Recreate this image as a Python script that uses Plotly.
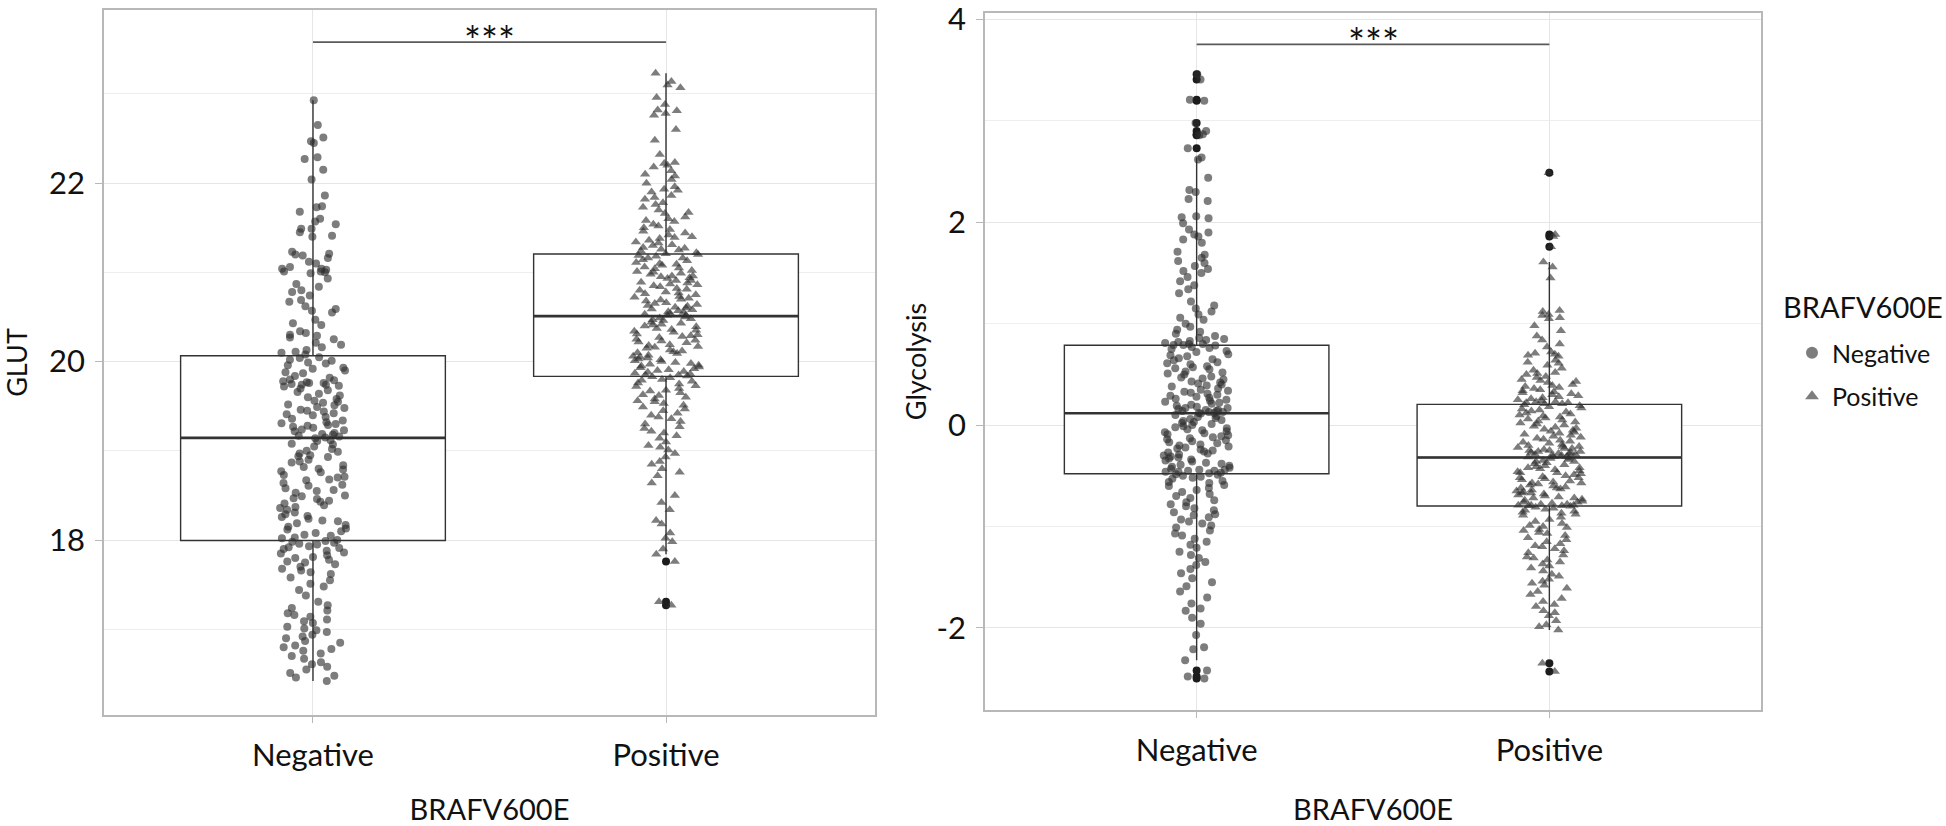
import numpy as np
import plotly.graph_objects as go

# ---------------- data ----------------
categories = ["Negative", "Positive"]

glut_negative = [
    22.93, 22.65, 22.51, 22.47, 22.45, 22.29, 22.27, 22.15, 22.04, 21.86,
    21.74, 21.73, 21.68, 21.60, 21.57, 21.54, 21.49, 21.49, 21.45, 21.41,
    21.40, 21.23, 21.21, 21.20, 21.19, 21.16, 21.12, 21.10, 21.06, 21.04,
    21.04, 21.03, 21.01, 21.01, 21.00, 20.99, 20.93, 20.87, 20.84, 20.80,
    20.78, 20.74, 20.69, 20.67, 20.62, 20.59, 20.57, 20.55, 20.47, 20.43,
    20.41, 20.34, 20.32, 20.30, 20.29, 20.27, 20.25, 20.21, 20.19, 20.16,
    20.13, 20.11, 20.10, 20.08,
    20.05, 20.04, 20.02, 20.01, 19.99, 19.98, 19.96, 19.93, 19.92, 19.90,
    19.88, 19.87, 19.84, 19.82, 19.80, 19.79, 19.78, 19.77, 19.76, 19.76,
    19.75, 19.74, 19.74, 19.73, 19.72, 19.70, 19.68, 19.66, 19.64, 19.62,
    19.60, 19.58, 19.56, 19.55, 19.54, 19.52, 19.51, 19.49, 19.48, 19.46,
    19.45, 19.44, 19.42, 19.41, 19.40, 19.38, 19.36, 19.34, 19.32, 19.31,
    19.30, 19.29, 19.28, 19.27, 19.26, 19.24, 19.23, 19.22, 19.20, 19.19,
    19.18, 19.17, 19.16, 19.15,
    19.14, 19.12, 19.11, 19.08, 19.07, 19.05, 19.02, 19.00, 18.99, 18.97,
    18.95, 18.94, 18.93, 18.90, 18.88, 18.87, 18.84, 18.82, 18.80, 18.79,
    18.77, 18.76, 18.73, 18.71, 18.70, 18.68, 18.67, 18.64, 18.62, 18.61,
    18.58, 18.56, 18.55, 18.53, 18.50, 18.49, 18.47, 18.46, 18.44, 18.43,
    18.41, 18.39, 18.37, 18.36, 18.34, 18.31, 18.29, 18.27, 18.26, 18.24,
    18.22, 18.21, 18.19, 18.17, 18.15, 18.13, 18.12, 18.10, 18.08, 18.06,
    18.05, 18.03, 18.02, 18.00,
    17.99, 17.98, 17.97, 17.96, 17.95, 17.93, 17.92, 17.91, 17.90, 17.88,
    17.86, 17.85, 17.83, 17.81, 17.80, 17.78, 17.76, 17.75, 17.73, 17.70,
    17.68, 17.66, 17.64, 17.62, 17.58, 17.55, 17.51, 17.48, 17.44, 17.38,
    17.31, 17.27, 17.24, 17.21, 17.18, 17.16, 17.14, 17.11, 17.09, 17.07,
    17.03, 17.01, 16.99, 16.97, 16.94, 16.92, 16.90, 16.87, 16.85, 16.82,
    16.80, 16.78, 16.76, 16.73, 16.70, 16.67, 16.63, 16.61, 16.58, 16.55,
    16.51, 16.48, 16.46, 16.42,
]

glut_positive = [
    23.23, 23.14, 23.10, 23.07, 22.96, 22.88, 22.82, 22.81, 22.78, 22.76,
    22.60, 22.48, 22.32, 22.23, 22.22, 22.20, 22.18, 22.14, 22.10, 22.08,
    22.04, 22.00, 21.96, 21.93, 21.92, 21.90, 21.86, 21.84, 21.82, 21.78,
    21.76, 21.73, 21.70, 21.67, 21.66, 21.62, 21.60, 21.58, 21.57, 21.54,
    21.52, 21.50, 21.48, 21.46, 21.44, 21.42, 21.40, 21.39, 21.38, 21.36,
    21.34, 21.33, 21.31, 21.30, 21.28, 21.27, 21.26, 21.25, 21.24, 21.22,
    21.21,
    21.20, 21.19, 21.18, 21.16, 21.16, 21.14, 21.13, 21.11, 21.10, 21.09,
    21.08, 21.06, 21.05, 21.04, 21.02, 21.01, 21.00, 20.99, 20.98, 20.96,
    20.96, 20.95, 20.94, 20.93, 20.91, 20.91, 20.89, 20.88, 20.87, 20.86,
    20.85, 20.84, 20.82, 20.81, 20.80, 20.78, 20.77, 20.76, 20.75, 20.73,
    20.72, 20.71, 20.70, 20.69, 20.68, 20.66, 20.65, 20.64, 20.63, 20.62,
    20.61, 20.60, 20.59, 20.58, 20.57, 20.56, 20.55, 20.54, 20.53, 20.52,
    20.52,
    20.50, 20.49, 20.48, 20.47, 20.46, 20.44, 20.43, 20.42, 20.41, 20.40,
    20.39, 20.37, 20.36, 20.35, 20.34, 20.33, 20.31, 20.30, 20.29, 20.28,
    20.27, 20.25, 20.24, 20.23, 20.22, 20.21, 20.19, 20.18, 20.17, 20.16,
    20.15, 20.13, 20.12, 20.11, 20.10, 20.09, 20.07, 20.06, 20.05, 20.04,
    20.03, 20.02, 20.01, 20.00, 19.99, 19.98, 19.97, 19.96, 19.95, 19.94,
    19.93, 19.92, 19.91, 19.90, 19.89, 19.88, 19.87, 19.86, 19.85, 19.85,
    19.84,
    19.83, 19.82, 19.80, 19.79, 19.78, 19.76, 19.75, 19.73, 19.72, 19.70,
    19.68, 19.67, 19.65, 19.63, 19.62, 19.60, 19.58, 19.56, 19.55, 19.53,
    19.51, 19.49, 19.47, 19.45, 19.42, 19.40, 19.38, 19.36, 19.33, 19.30,
    19.27, 19.25, 19.22, 19.20, 19.17, 19.14, 19.10, 19.06, 19.04, 19.01,
    18.97, 18.93, 18.88, 18.85, 18.80, 18.76, 18.72, 18.64, 18.50, 18.42,
    18.34, 18.22, 18.18, 18.08, 18.02, 17.98, 17.90, 17.84, 17.76, 17.31,
    17.27,
]

glyco_negative = [
    3.46, 3.41, 3.21, 3.20, 2.98, 2.90, 2.87, 2.86, 2.73,
    2.64, 2.62, 2.44, 2.32, 2.30, 2.23, 2.21, 2.06, 2.05, 2.04,
    1.99, 1.93, 1.90, 1.88, 1.86, 1.83, 1.80, 1.71, 1.68, 1.65,
    1.62, 1.60, 1.57, 1.54, 1.52, 1.50, 1.46, 1.42, 1.38, 1.34,
    1.30, 1.22, 1.18, 1.15, 1.12, 1.09, 1.06, 1.04, 1.00, 0.97,
    0.94, 0.92, 0.90, 0.88, 0.86, 0.85, 0.84, 0.83, 0.82, 0.81,
    0.80, 0.80, 0.79, 0.79,
    0.785, 0.77, 0.76, 0.75, 0.73, 0.72, 0.70, 0.69, 0.68, 0.66,
    0.65, 0.64, 0.62, 0.61, 0.60, 0.58, 0.57, 0.56, 0.55, 0.53,
    0.52, 0.51, 0.50, 0.48, 0.47, 0.46, 0.45, 0.43, 0.42, 0.41,
    0.40, 0.39, 0.38, 0.36, 0.35, 0.34, 0.33, 0.32, 0.31, 0.30,
    0.29, 0.28, 0.27, 0.26, 0.25, 0.24, 0.23, 0.22, 0.21, 0.20,
    0.19, 0.18, 0.17, 0.17, 0.16, 0.15, 0.15, 0.14, 0.14, 0.13,
    0.13, 0.12, 0.12,
    0.115, 0.10, 0.09, 0.08, 0.07, 0.06, 0.05, 0.04, 0.03, 0.02,
    0.01, 0.00, -0.01, -0.02, -0.03, -0.04, -0.05, -0.06, -0.07, -0.08,
    -0.09, -0.10, -0.11, -0.12, -0.13, -0.14, -0.15, -0.16, -0.17, -0.18,
    -0.19, -0.20, -0.21, -0.22, -0.23, -0.24, -0.25, -0.26, -0.27, -0.28,
    -0.29, -0.30, -0.31, -0.32, -0.33, -0.34, -0.35, -0.36, -0.37, -0.38,
    -0.39, -0.40, -0.41, -0.42, -0.43, -0.44, -0.44, -0.45, -0.45, -0.46,
    -0.46, -0.47, -0.475,
    -0.485, -0.49, -0.50, -0.51, -0.52, -0.53, -0.55, -0.56, -0.57, -0.59,
    -0.60, -0.62, -0.64, -0.66, -0.68, -0.70, -0.72, -0.74, -0.76, -0.78,
    -0.80, -0.82, -0.84, -0.86, -0.88, -0.89, -0.91, -0.93, -0.95, -0.97,
    -0.99, -1.01, -1.04, -1.07, -1.09, -1.12, -1.15, -1.18, -1.21, -1.25,
    -1.28, -1.31, -1.35, -1.38, -1.42, -1.46, -1.51, -1.55, -1.59, -1.64,
    -1.70, -1.76, -1.81, -1.83, -1.90, -1.96, -2.07, -2.19, -2.21, -2.32,
    -2.42, -2.48, -2.50,
]

glyco_positive = [
    2.49, 1.88, 1.86, 1.76,
    1.61, 1.56, 1.45, 1.13, 1.12, 1.09,
    1.08, 1.06, 1.05, 0.98, 0.93, 0.88, 0.84, 0.80, 0.77, 0.72,
    0.71, 0.70, 0.69, 0.68, 0.64, 0.62, 0.61, 0.59, 0.56, 0.54,
    0.52, 0.51, 0.50, 0.48, 0.47, 0.45, 0.44, 0.43, 0.42, 0.40,
    0.39, 0.38, 0.37, 0.36, 0.35, 0.34, 0.33, 0.32, 0.31, 0.30,
    0.29, 0.28, 0.27, 0.26, 0.25, 0.24, 0.23, 0.23, 0.22, 0.22,
    0.21, 0.21,
    0.20, 0.19, 0.18, 0.17, 0.16, 0.15, 0.14, 0.13, 0.12, 0.11,
    0.10, 0.09, 0.08, 0.07, 0.06, 0.05, 0.04, 0.03, 0.02, 0.01,
    0.00, -0.01, -0.02, -0.03, -0.04, -0.05, -0.06, -0.07, -0.08, -0.09,
    -0.10, -0.11, -0.12, -0.13, -0.14, -0.15, -0.16, -0.17, -0.18, -0.19,
    -0.20, -0.21, -0.21, -0.22, -0.23, -0.23, -0.24, -0.25, -0.25, -0.26,
    -0.26, -0.27, -0.27, -0.28, -0.28, -0.29, -0.29, -0.30, -0.30, -0.31,
    -0.31, -0.315,
    -0.325, -0.33, -0.34, -0.35, -0.36, -0.36, -0.37, -0.38, -0.39, -0.40,
    -0.41, -0.42, -0.42, -0.43, -0.44, -0.45, -0.46, -0.47, -0.47, -0.48,
    -0.49, -0.50, -0.51, -0.52, -0.52, -0.53, -0.54, -0.55, -0.56, -0.57,
    -0.57, -0.58, -0.59, -0.60, -0.61, -0.62, -0.62, -0.63, -0.64, -0.65,
    -0.66, -0.67, -0.67, -0.68, -0.69, -0.70, -0.71, -0.72, -0.72, -0.73,
    -0.74, -0.75, -0.76, -0.76, -0.77, -0.78, -0.78, -0.79, -0.79, -0.79,
    -0.795, -0.795,
    -0.80, -0.81, -0.82, -0.83, -0.84, -0.85, -0.86, -0.87, -0.88, -0.89,
    -0.91, -0.93, -0.95, -0.97, -0.99, -1.00, -1.01, -1.03, -1.04, -1.06,
    -1.07, -1.09, -1.11, -1.13, -1.15, -1.17, -1.19, -1.20, -1.22, -1.24,
    -1.26, -1.28, -1.30, -1.31, -1.33, -1.35, -1.37, -1.39, -1.41, -1.44,
    -1.47, -1.49, -1.52, -1.54, -1.56, -1.58, -1.61, -1.64, -1.67, -1.71,
    -1.74, -1.77, -1.79, -1.83, -1.88, -1.93, -1.97, -2.02, -2.35, -2.43,
    -1.99, -1.85,
]

y_titles = ["GLUT", "Glycolysis"]
x_title = "BRAFV600E"
legend_title = "BRAFV600E"
glut_tickvals = [18, 20, 22]
glut_ticktext = ["18", "20", "22"]
glyco_tickvals = [-2, 0, 2, 4]
glyco_ticktext = ["-2", "0", "2", "4"]
sig_label = "***"
glut_sig_y = 23.58
glyco_sig_y = 3.756

# ---------------- styling ----------------
FONT = "Lato, 'Open Sans', sans-serif"
POINT_COLOR = "rgba(45,45,45,0.62)"
OUTLIER_COLOR = "#1c1c1c"
BOX_LINE = "#333333"
GRID = "#e6e6e6"
FRAME = "#b8b8b8"
symbols = {"Negative": "circle", "Positive": "triangle-up"}
sizes = {"Negative": 8, "Positive": 9}

fig = go.Figure()

panels = [
    ("x", "y", {"Negative": glut_negative, "Positive": glut_positive}, glut_sig_y),
    ("x2", "y2", {"Negative": glyco_negative, "Positive": glyco_positive}, glyco_sig_y),
]

for xa, ya, groups, sig_y in panels:
    # boxes (under points)
    for cat in categories:
        vals = groups[cat]
        fig.add_trace(go.Box(
            y=vals, x=[cat] * len(vals), name=cat, xaxis=xa, yaxis=ya,
            boxpoints="outliers", jitter=0, pointpos=0, width=0.75,
            whiskerwidth=0, fillcolor="white", quartilemethod="linear",
            line=dict(color=BOX_LINE, width=1.4),
            marker=dict(color=OUTLIER_COLOR, size=8, symbol="circle"),
            showlegend=False, hoverinfo="skip",
        ))
        med = float(np.median(vals))
        fig.add_trace(go.Box(
            x=[cat], q1=[med], median=[med], q3=[med],
            lowerfence=[med], upperfence=[med], name=cat,
            xaxis=xa, yaxis=ya, width=0.75, whiskerwidth=0,
            fillcolor="rgba(0,0,0,0)", line=dict(color=BOX_LINE, width=2.6),
            boxpoints=False, showlegend=False, hoverinfo="skip",
        ))
    # jittered points
    for cat in categories:
        vals = groups[cat]
        fig.add_trace(go.Box(
            y=vals, x=[cat] * len(vals), name=cat, xaxis=xa, yaxis=ya,
            boxpoints="all", jitter=0.25, pointpos=0, width=0.75,
            fillcolor="rgba(0,0,0,0)",
            line=dict(color="rgba(0,0,0,0)", width=0),
            marker=dict(color=POINT_COLOR, size=sizes[cat], symbol=symbols[cat],
                        line=dict(width=0)),
            showlegend=False, hoverinfo="y",
        ))
    # significance bracket
    fig.add_trace(go.Scatter(
        x=categories, y=[sig_y, sig_y], mode="lines", xaxis=xa, yaxis=ya,
        line=dict(color="#5a5a5a", width=1.6), showlegend=False, hoverinfo="skip",
    ))
    fig.add_annotation(
        x=0.5, y=sig_y, xref=xa, yref=ya, text=sig_label, showarrow=False,
        yanchor="middle", font=dict(family=FONT, size=40, color="#111111"), yshift=1,
    )

# legend proxies
for i, cat in enumerate(categories):
    fig.add_trace(go.Scatter(
        x=[None], y=[None], mode="markers", name=cat, legendgroup=cat,
        marker=dict(color="rgba(45,45,45,0.62)", size=8, symbol=symbols[cat]),
        xaxis="x2", yaxis="y2",
    ))

# legend title as text
fig.add_annotation(
    x=1781 / 1946, y=1 - 306 / 826, xref="paper", yref="paper", xanchor="left",
    yanchor="middle", text=legend_title, showarrow=False,
    font=dict(family=FONT, size=29, color="#111111"),
)

axis_common = dict(
    showline=True, mirror=True, linecolor=FRAME, linewidth=1.5,
    showgrid=True, gridcolor=GRID, gridwidth=1.3, zeroline=False,
    ticks="outside", tickcolor=FRAME, tickwidth=1.3, automargin=False,
    tickfont=dict(family=FONT, size=31, color="#111111"),
)

fig.update_layout(
    width=1946, height=826,
    margin=dict(l=0, r=0, t=0, b=0),
    paper_bgcolor="white", plot_bgcolor="white",
    boxmode="overlay",
    font=dict(family=FONT, color="#111111"),
    xaxis=dict(domain=[104 / 1946, 875 / 1946], type="category",
               categoryorder="array", categoryarray=categories,
               range=[-0.592, 1.592], ticklen=6, ticklabelstandoff=6,
               title=dict(text=x_title, font=dict(family=FONT, size=29), standoff=36),
               **axis_common),
    yaxis=dict(domain=[1 - 715 / 826, 1 - 10 / 826], range=[16.04, 23.94],
               tickvals=glut_tickvals, ticktext=glut_ticktext, ticklen=7,
               ticklabelstandoff=4, ticklabeloverflow="allow",
               minor=dict(dtick=1, tick0=17, showgrid=True, gridcolor="#eeeeee", gridwidth=1.2, ticks=""),
               title=dict(text=y_titles[0], font=dict(family=FONT, size=27), standoff=14),
               **axis_common),
    xaxis2=dict(domain=[985 / 1946, 1761 / 1946], type="category", anchor="y2",
                categoryorder="array", categoryarray=categories,
                range=[-0.6, 1.6], ticklen=6, ticklabelstandoff=6,
                title=dict(text=x_title, font=dict(family=FONT, size=29), standoff=36),
                **axis_common),
    yaxis2=dict(domain=[1 - 710 / 826, 1 - 13 / 826], range=[-2.81, 4.065], anchor="x2",
                tickvals=glyco_tickvals, ticktext=glyco_ticktext, ticklen=7,
                ticklabelstandoff=4, ticklabeloverflow="allow",
                minor=dict(dtick=1, tick0=0, showgrid=True, gridcolor="#eeeeee", gridwidth=1.2, ticks=""),
                title=dict(text=y_titles[1], font=dict(family=FONT, size=27), standoff=2),
                **axis_common),
    legend=dict(
        font=dict(family=FONT, size=25, color="#111111"),
        x=1792 / 1946, xanchor="left", y=1 - 330 / 826, yanchor="top",
        bgcolor="rgba(0,0,0,0)", tracegroupgap=8, itemsizing="constant",
    ),
)

fig.write_html("out.html", config={"displayModeBar": False},
               post_script="document.body.style.margin='0';")
